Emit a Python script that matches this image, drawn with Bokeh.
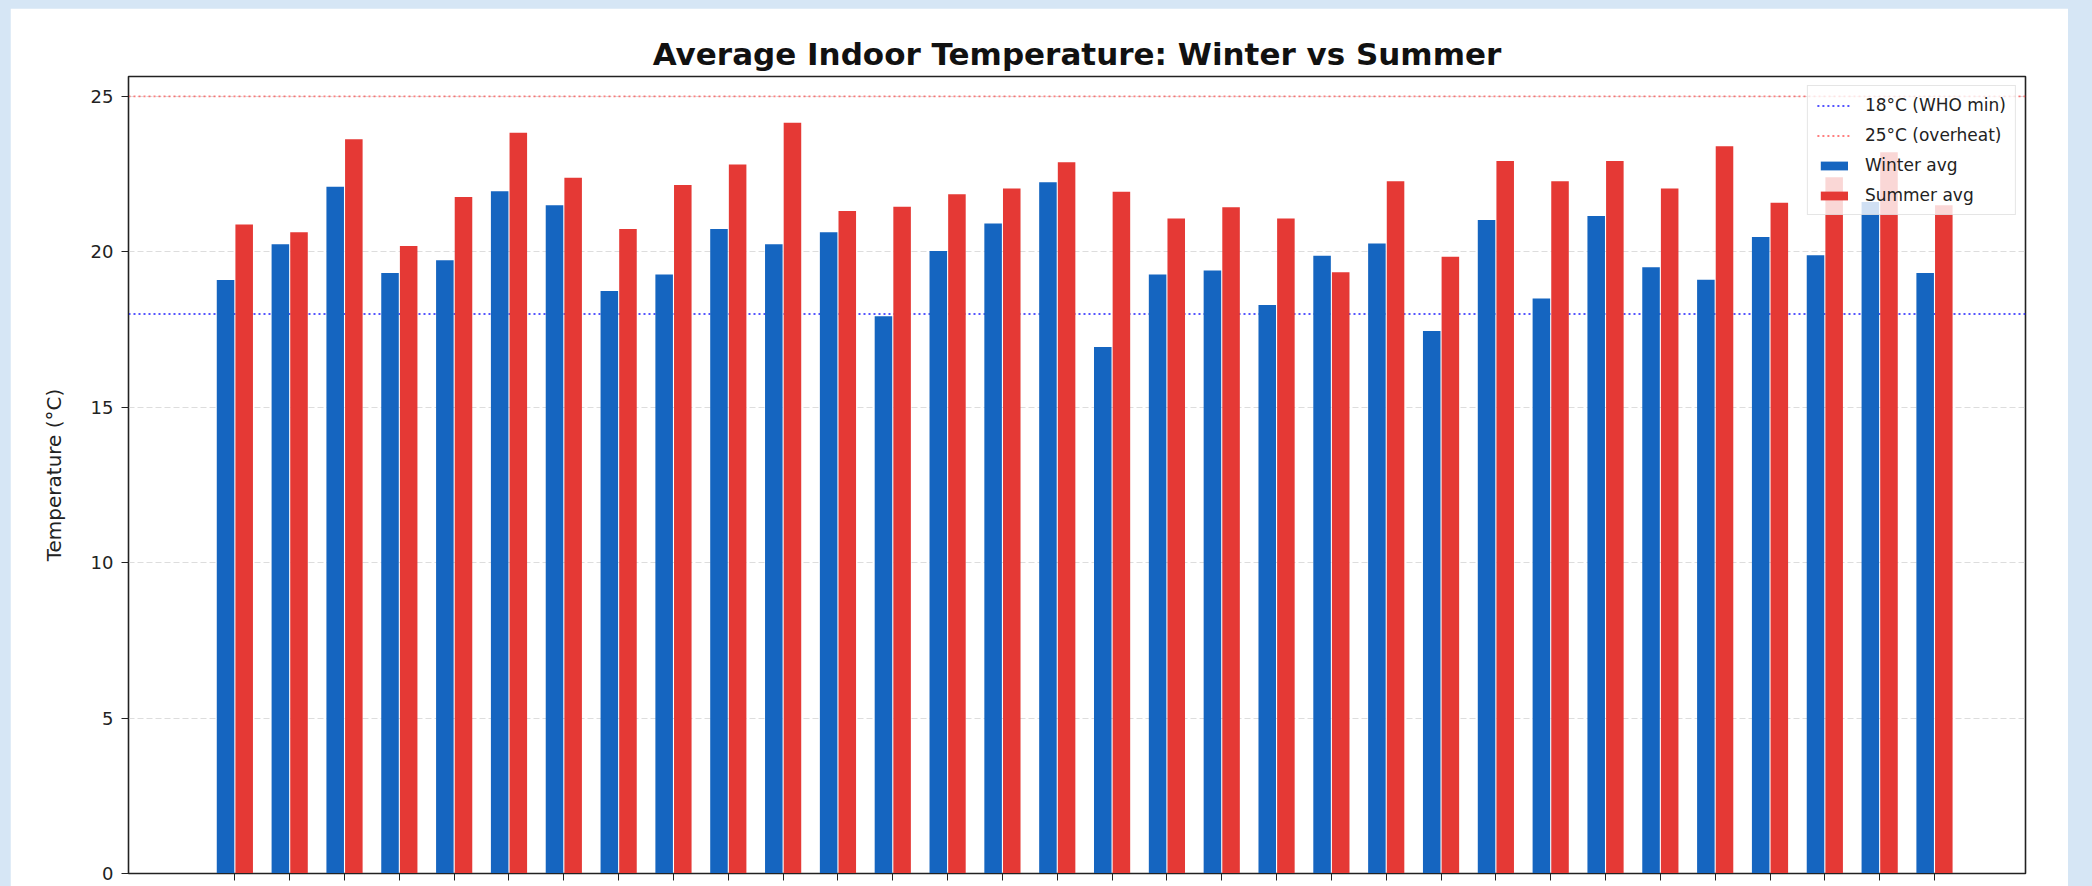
from bokeh.plotting import figure
from bokeh.models import Range1d, Legend, LegendItem, FixedTicker, CustomJSTickFormatter
from bokeh.embed import file_html
from bokeh.resources import INLINE

# ---- data ----
homes = list(range(1, 33))  # 32 dwellings (x tick labels are cropped in the reference)
winter_avg = [19.09, 20.24, 22.09, 19.32, 19.73, 21.95, 21.50, 18.74, 19.27, 20.73,
              20.24, 20.63, 17.93, 20.03, 20.91, 22.24, 16.94, 19.27, 19.40, 18.29,
              19.87, 20.27, 17.45, 21.02, 18.50, 21.15, 19.50, 19.10, 20.48, 19.89,
              21.60, 19.32]
summer_avg = [20.88, 20.63, 23.62, 20.19, 21.76, 23.83, 22.38, 20.73, 22.15, 22.81,
              24.15, 21.31, 21.45, 21.85, 22.04, 22.88, 21.93, 21.07, 21.43, 21.07,
              19.34, 22.27, 19.84, 22.92, 22.27, 22.92, 22.04, 23.40, 21.58, 22.40,
              23.20, 21.50]
y_ticks = [0, 5, 10, 15, 20, 25]
who_min = 18
overheat = 25

WINTER = "#1565C0"
SUMMER = "#E53935"
FONT = "DejaVu Sans"

pos = [h - 1 for h in homes]
x_lo, x_hi = -1.94, 32.66

p = figure(width=2058, height=878,
           x_range=Range1d(x_lo, x_hi), y_range=Range1d(0, 25.64),
           output_backend="svg", toolbar_location=None,
           title="Average Indoor Temperature: Winter vs Summer",
           min_border_left=118, min_border_right=43,
           min_border_top=68, min_border_bottom=13)
p.background_fill_color = "white"
p.border_fill_color = "white"
p.outline_line_color = "#222222"
p.outline_line_width = 1.6

p.title.align = "center"
p.title.text_font = FONT
p.title.text_font_size = "31px"
p.title.text_font_style = "bold"
p.title.text_color = "#111111"

# grid
p.xgrid.grid_line_color = None
p.ygrid.grid_line_color = "#cfcfcf"
p.ygrid.grid_line_alpha = 0.7
p.ygrid.grid_line_dash = "6 3"
p.ygrid.ticker = FixedTicker(ticks=y_ticks)

# axes
p.yaxis.ticker = FixedTicker(ticks=y_ticks)
p.yaxis.axis_label = "Temperature (°C)"
p.yaxis.axis_label_text_font = FONT
p.yaxis.axis_label_text_font_size = "20px"
p.yaxis.axis_label_text_font_style = "normal"
p.yaxis.axis_label_text_color = "#222222"
p.yaxis.axis_label_standoff = 22
p.yaxis.major_label_text_font = FONT
p.yaxis.major_label_text_font_size = "18px"
p.yaxis.major_label_text_color = "#222222"
p.yaxis.major_label_standoff = 8
p.yaxis.minor_tick_line_color = None
p.yaxis.major_tick_out = 7
p.yaxis.major_tick_in = 0
p.yaxis.axis_line_color = "#222222"
p.yaxis.major_tick_line_color = "#222222"

# x tick labels are cut off in the reference: keep the ticks, blank labels
p.xaxis.ticker = FixedTicker(ticks=pos)
p.xaxis.formatter = CustomJSTickFormatter(code="return '';")
p.xaxis.major_label_standoff = 0
p.xaxis.minor_tick_line_color = None
p.xaxis.major_tick_out = 7
p.xaxis.major_tick_in = 0
p.xaxis.axis_line_color = "#222222"
p.xaxis.major_tick_line_color = "#222222"

# reference lines
r_min = p.line(x=[x_lo, x_hi], y=[who_min, who_min], line_color="#2b2bff",
               line_alpha=0.8, line_width=1.8, line_dash="2 3")
r_hot = p.line(x=[x_lo, x_hi], y=[overheat, overheat], line_color="#ff3b3b",
               line_alpha=0.65, line_width=1.8, line_dash="2 3")

# bars
off = 0.17
bw = 0.32
r_w = p.vbar(x=[v - off for v in pos], top=winter_avg, width=bw, bottom=0,
             fill_color=WINTER, line_color=None)
r_s = p.vbar(x=[v + off for v in pos], top=summer_avg, width=bw, bottom=0,
             fill_color=SUMMER, line_color=None)

legend = Legend(items=[
    LegendItem(label="18°C (WHO min)", renderers=[r_min]),
    LegendItem(label="25°C (overheat)", renderers=[r_hot]),
    LegendItem(label="Winter avg", renderers=[r_w]),
    LegendItem(label="Summer avg", renderers=[r_s]),
], location="top_right")
legend.label_text_font = FONT
legend.label_text_font_size = "17px"
legend.label_text_color = "#222222"
legend.glyph_width = 34
legend.glyph_height = 11
legend.label_height = 20
legend.spacing = 10
legend.padding = 9
legend.margin = 9
legend.label_standoff = 14
legend.background_fill_alpha = 0.8
legend.border_line_color = "#cccccc"
legend.border_line_width = 1.2
p.add_layout(legend)

html = file_html(p, INLINE)
extra = ("<style>html, body { background-color: #d6e6f5 !important; }"
         " body { padding: 8px 0 0 10px !important; }</style>")
html = html.replace("</head>", extra + "</head>", 1)
open("out.html", "w").write(html)
